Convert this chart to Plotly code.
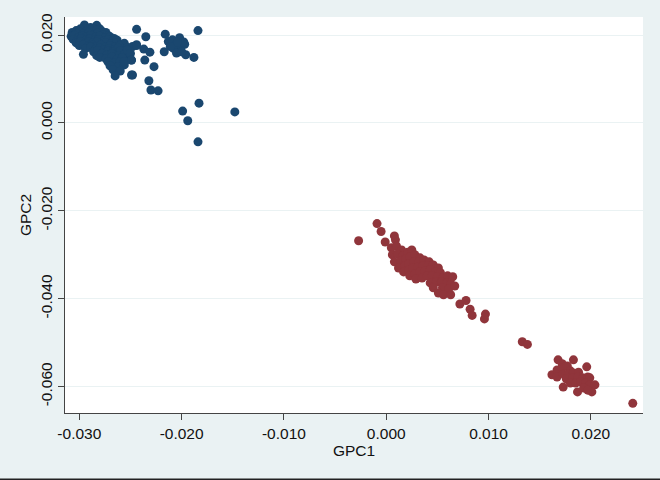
import plotly.graph_objects as go

# ---- data: group 1 (blue) ----
blue_x = [
    -0.0295, -0.0289, -0.0283, -0.0280,
    -0.0303, -0.0299, -0.0293, -0.0287, -0.0283, -0.0278, -0.0274,
    -0.0307, -0.0304, -0.0300, -0.0296, -0.0291, -0.0286, -0.0282, -0.0277, -0.0272,
    -0.0308, -0.0305, -0.0301, -0.0297, -0.0293, -0.0289, -0.0284, -0.0280, -0.0275, -0.0270, -0.0266,
    -0.0306, -0.0302, -0.0298, -0.0294, -0.0290, -0.0285, -0.0281, -0.0276, -0.0272, -0.0267, -0.0263,
    -0.0303, -0.0299, -0.0295, -0.0291, -0.0287, -0.0283, -0.0278, -0.0274, -0.0269, -0.0264, -0.0260, -0.0256,
    -0.0300, -0.0296, -0.0292, -0.0287, -0.0283, -0.0279, -0.0275, -0.0270, -0.0265, -0.0261, -0.0253,
    -0.0294, -0.0289, -0.0284, -0.0280, -0.0276, -0.0271, -0.0266, -0.0262, -0.0257,
    -0.0286, -0.0282, -0.0277, -0.0272, -0.0267, -0.0260, -0.0254,
    -0.0296, -0.0283, -0.0278, -0.0273, -0.0268, -0.0262, -0.0256,
    -0.0280, -0.0274, -0.0268, -0.0263, -0.0258, -0.0250,
    -0.0272, -0.0266, -0.0260,
    -0.0270, -0.0262, -0.0256,
    -0.0267, -0.0260,
    -0.0265, -0.0248,
    -0.0248, -0.0244, -0.0253, -0.0250, -0.0249, -0.0256,
    -0.0216, -0.0213, -0.0209, -0.0206, -0.0202, -0.0201, -0.0197, -0.0196, -0.0188,
    -0.0208, -0.0205, -0.0200, -0.0211, -0.0217, -0.0184, -0.0198, -0.0204,
    -0.0244, -0.0235, -0.0237, -0.0231, -0.0236, -0.0227, -0.0232, -0.0230, -0.0223,
    -0.0199, -0.0183, -0.0194, -0.0148, -0.0184, -0.0249, -0.0249, -0.0244,
]
blue_y = [
    0.0223, 0.0217, 0.0222, 0.0214,
    0.0210, 0.0214, 0.0208, 0.0215, 0.0211, 0.0209, 0.0206,
    0.0206, 0.0201, 0.0207, 0.0203, 0.0205, 0.0200, 0.0204, 0.0201, 0.0199,
    0.0197, 0.0199, 0.0194, 0.0198, 0.0196, 0.0199, 0.0195, 0.0197, 0.0193, 0.0196, 0.0192,
    0.0190, 0.0187, 0.0192, 0.0189, 0.0191, 0.0188, 0.0190, 0.0186, 0.0189, 0.0186, 0.0188,
    0.0182, 0.0185, 0.0180, 0.0184, 0.0181, 0.0184, 0.0179, 0.0183, 0.0180, 0.0182, 0.0178, 0.0181,
    0.0176, 0.0178, 0.0173, 0.0177, 0.0174, 0.0177, 0.0172, 0.0176, 0.0173, 0.0175, 0.0171,
    0.0169, 0.0172, 0.0167, 0.0170, 0.0166, 0.0169, 0.0167, 0.0170, 0.0165,
    0.0162, 0.0165, 0.0160, 0.0163, 0.0161, 0.0164, 0.0159,
    0.0156, 0.0153, 0.0157, 0.0154, 0.0158, 0.0152, 0.0156,
    0.0149, 0.0146, 0.0150, 0.0145, 0.0148, 0.0144,
    0.0139, 0.0136, 0.0140,
    0.0130, 0.0128, 0.0132,
    0.0121, 0.0118,
    0.0107, 0.0109,
    0.0174, 0.0178, 0.0166, 0.0158, 0.0143, 0.0140,
    0.0202, 0.0185, 0.0189, 0.0177, 0.0194, 0.0170, 0.0179, 0.0155, 0.0149,
    0.0170, 0.0159, 0.0162, 0.0174, 0.0162, 0.0210, 0.0184, 0.0184,
    0.0213, 0.0196, 0.0168, 0.0161, 0.0143, 0.0128, 0.0096, 0.0075, 0.0073,
    0.0027, 0.0045, 0.0005, 0.0025, -0.0043, 0.0109, 0.0143, 0.0176,
]

# ---- data: group 2 (red) ----
red_x = [
    -0.0027, -0.0009, -0.0005, -0.0001, 0.0008, 0.0009,
    0.0005, 0.0010, 0.0015, 0.0006, 0.0011, 0.0016, 0.0021, 0.0025,
    0.0008, 0.0014, 0.0019, 0.0023, 0.0028, 0.0033,
    0.0012, 0.0018, 0.0022, 0.0027, 0.0032, 0.0037, 0.0042,
    0.0017, 0.0022, 0.0026, 0.0031, 0.0036, 0.0041, 0.0046, 0.0051,
    0.0023, 0.0028, 0.0033, 0.0038, 0.0043, 0.0048, 0.0053,
    0.0029, 0.0035, 0.0040, 0.0045, 0.0050, 0.0055, 0.0060, 0.0065,
    0.0043, 0.0049, 0.0054, 0.0059, 0.0063,
    0.0046, 0.0055, 0.0061, 0.0051, 0.0056, 0.0063, 0.0067,
    0.0072, 0.0078, 0.0082, 0.0084, 0.0096, 0.0097, 0.0133, 0.0138,
    0.0168, 0.0172, 0.0183, 0.0196, 0.0162, 0.0167, 0.0172, 0.0177, 0.0180,
    0.0167, 0.0173, 0.0178, 0.0183, 0.0188, 0.0176, 0.0182, 0.0187, 0.0192,
    0.0197, 0.0199, 0.0173, 0.0180, 0.0185, 0.0190, 0.0195, 0.0199, 0.0204,
    0.0187, 0.0193, 0.0201, 0.0197,
    0.0241,
]
red_y = [
    -0.0268, -0.0229, -0.0247, -0.0271, -0.0257, -0.0266,
    -0.0284, -0.0280, -0.0289, -0.0300, -0.0298, -0.0303, -0.0294, -0.0289,
    -0.0316, -0.0314, -0.0309, -0.0305, -0.0300, -0.0307,
    -0.0330, -0.0325, -0.0321, -0.0316, -0.0316, -0.0312, -0.0316,
    -0.0339, -0.0334, -0.0330, -0.0328, -0.0325, -0.0325, -0.0323, -0.0330,
    -0.0348, -0.0344, -0.0339, -0.0337, -0.0334, -0.0339, -0.0341,
    -0.0355, -0.0353, -0.0348, -0.0348, -0.0350, -0.0353, -0.0348, -0.0350,
    -0.0364, -0.0362, -0.0362, -0.0364, -0.0366,
    -0.0375, -0.0375, -0.0378, -0.0387, -0.0391, -0.0391, -0.0371,
    -0.0412, -0.0404, -0.0424, -0.0438, -0.0446, -0.0435, -0.0498, -0.0504,
    -0.0539, -0.0548, -0.0539, -0.0555, -0.0573, -0.0562, -0.0557, -0.0553, -0.0564,
    -0.0578, -0.0571, -0.0571, -0.0569, -0.0567, -0.0582, -0.0580, -0.0578, -0.0580,
    -0.0578, -0.0580, -0.0601, -0.0592, -0.0592, -0.0589, -0.0592, -0.0596, -0.0596,
    -0.0612, -0.0603, -0.0612, -0.0608,
    -0.0638,
]

x_ticks = [-0.03, -0.02, -0.01, 0.0, 0.01, 0.02]
x_ticklabels = ["-0.030", "-0.020", "-0.010", "0.000", "0.010", "0.020"]
y_ticks = [-0.06, -0.04, -0.02, 0.0, 0.02]
y_ticklabels = ["-0.060", "-0.040", "-0.020", "0.000", "0.020"]

BG = "#EAF2F3"
BLUE = "#1A476F"
RED = "#90353B"
FONT = "Liberation Sans, Arial, sans-serif"

fig = go.Figure()
fig.add_trace(go.Scatter(x=blue_x, y=blue_y, mode="markers",
                         marker=dict(color=BLUE, size=9, line=dict(width=0)),
                         showlegend=False))
fig.add_trace(go.Scatter(x=red_x, y=red_y, mode="markers",
                         marker=dict(color=RED, size=9, line=dict(width=0)),
                         showlegend=False))

fig.update_layout(
    width=660, height=480,
    margin=dict(l=65, r=17, t=17, b=67),
    paper_bgcolor=BG, plot_bgcolor="white",
    font=dict(family=FONT, size=15.5, color="#111"),
    showlegend=False,
)
fig.update_xaxes(
    range=[-0.0314, 0.0251], tickmode="array", tickvals=x_ticks, ticktext=x_ticklabels,
    showgrid=False, zeroline=False, showline=True, linecolor="#444", linewidth=1,
    ticks="outside", ticklen=6, tickcolor="#444",
    title=dict(text="GPC1", standoff=0, font=dict(size=15.5)),
)
fig.update_yaxes(
    range=[-0.0660, 0.0241], tickmode="array", tickvals=y_ticks, ticktext=y_ticklabels,
    tickangle=-90, showgrid=True, gridcolor=BG, gridwidth=1.2, zeroline=False,
    showline=True, linecolor="#444", linewidth=1,
    ticks="outside", ticklen=6, tickcolor="#444",
    title=dict(text="GPC2", standoff=2, font=dict(size=15.5)),
)
fig.add_shape(type="line", xref="paper", yref="paper", x0=-0.2, x1=1.1,
              y0=-0.168, y1=-0.168, line=dict(color="#222", width=2))

fig.write_html("out.html", config={"displayModeBar": False},
               post_script="document.body.style.margin='0';")
